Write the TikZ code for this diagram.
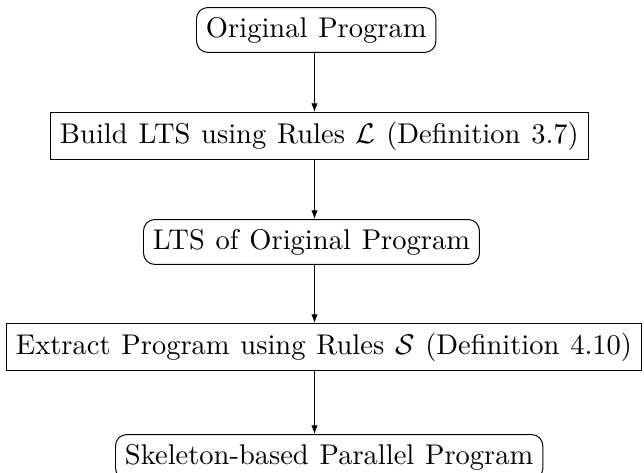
\documentclass[tikz,border=0pt]{standalone}
\usetikzlibrary{arrows.meta}
% slightly wider word spaces inside the boxes
\newcommand{\boxspacing}{\spaceskip=3.8pt\relax}
\begin{document}
\begin{tikzpicture}[x=0.3509pt,y=-0.3509pt,
  every node/.style={font=\boxspacing},
  roundbox/.style={draw,rounded corners=4pt,inner sep=3.33pt,line width=0.35pt},
  squarebox/.style={draw,inner sep=3.33pt,line width=0.35pt},
  flow/.style={-{Latex[length=3pt,width=2.2pt]},line width=0.35pt}]
  \useasboundingbox (0,0) rectangle (644,472);
  % boxes of the flow, top to bottom
  \node[roundbox,anchor=north west]  (orig)  at (196,7)   {Original Program};
  \node[squarebox,anchor=north west] (build) at (50,112)  {Build LTS using Rules $\mathcal{L}$ (Definition 3.7)};
  \node[roundbox,anchor=north west]  (lts)   at (143,219) {LTS of Original Program};
  \node[squarebox,anchor=north]      (extr)  at (324,323) {Extract Program using Rules $\mathcal{S}$ (Definition 4.10)};
  \node[roundbox,anchor=north west]  (skel)  at (115,434) {Skeleton-based Parallel Program};
  % arrows run down one common column
  \coordinate (col) at (314.5,0);
  \draw[flow] (orig.south -| col) -- (build.north -| col);
  \draw[flow] (build.south -| col) -- (lts.north -| col);
  \draw[flow] (lts.south -| col) -- (extr.north -| col);
  \draw[flow] (extr.south -| col) -- (skel.north -| col);
\end{tikzpicture}
\end{document}
